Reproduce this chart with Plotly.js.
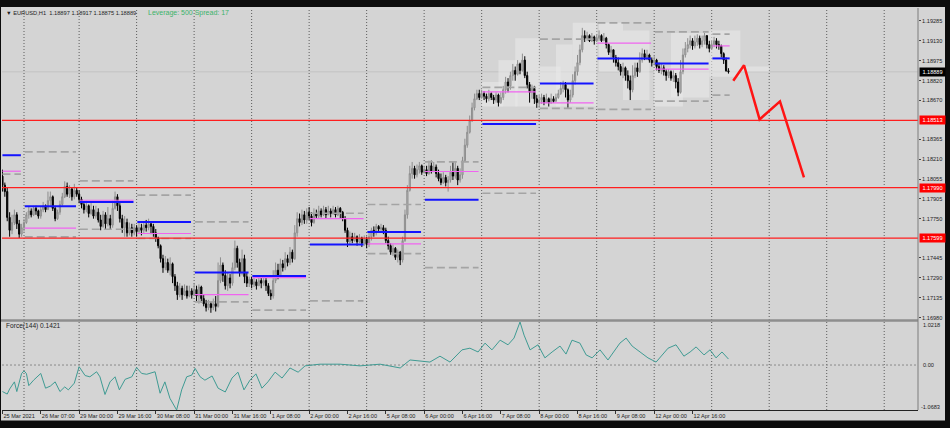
<!DOCTYPE html>
<html><head><meta charset="utf-8">
<script src="https://cdn.plot.ly/plotly-3.0.1.min.js"></script>
<style>html,body{margin:0;padding:0;background:#000;}#chart{width:950px;height:428px;}</style>
</head><body><div id="chart"></div>
<script>
// ---------- DATA ----------
const firstOpen = 1.1808;
const closes = [
1.1801,1.1796,1.1776,1.1766,1.1772,1.1778,1.1771,1.1763,1.1768,1.1772,
1.1778,1.1781,1.1778,1.1783,1.1781,1.1777,1.1782,1.1785,1.1782,1.1789,
1.1792,1.1783,1.1775,1.1780,1.1786,1.1792,1.1800,1.1794,1.1798,1.1792,
1.1797,1.1794,1.1790,1.1786,1.1782,1.1785,1.1779,1.1782,1.1777,1.1780,
1.1774,1.1769,1.1778,1.1771,1.1775,1.1770,1.1783,1.1792,1.1785,1.1775,
1.1768,1.1772,1.1764,1.1768,1.1764,1.1768,1.1765,1.1768,1.1766,1.1770,
1.1768,1.1771,1.1769,1.1764,1.1760,1.1754,1.1744,1.1737,1.1741,1.1735,
1.1740,1.1730,1.1723,1.1716,1.1721,1.1716,1.1719,1.1715,1.1719,1.1716,
1.1720,1.1715,1.1722,1.1713,1.1709,1.1706,1.1709,1.1706,1.1709,1.1707,
1.1727,1.1739,1.1731,1.1723,1.1729,1.1725,1.1737,1.1752,1.1741,1.1733,
1.1744,1.1730,1.1725,1.1728,1.1724,1.1726,1.1723,1.1727,1.1725,1.1727,
1.1723,1.1717,1.1715,1.1727,1.1735,1.1731,1.1740,1.1737,1.1744,1.1741,
1.1749,1.1744,1.1764,1.1775,1.1772,1.1778,1.1774,1.1780,1.1777,1.1772,
1.1779,1.1777,1.1781,1.1778,1.1782,1.1778,1.1781,1.1779,1.1782,1.1778,
1.1783,1.1780,1.1775,1.1766,1.1757,1.1761,1.1758,1.1761,1.1757,1.1760,
1.1756,1.1759,1.1755,1.1761,1.1766,1.1764,1.1769,1.1767,1.1768,1.1766,
1.1758,1.1754,1.1749,1.1752,1.1745,1.1749,1.1743,1.1758,1.1778,1.1797,
1.1810,1.1814,1.1809,1.1813,1.1816,1.1811,1.1813,1.1810,1.1816,1.1812,
1.1815,1.1810,1.1806,1.1803,1.1807,1.1803,1.1805,1.1811,1.1808,1.1814,
1.1805,1.1809,1.1820,1.1832,1.1842,1.1851,1.1861,1.1868,1.1872,1.1869,
1.1872,1.1870,1.1868,1.1872,1.1869,1.1867,1.1871,1.1865,1.1869,1.1875,
1.1881,1.1878,1.1886,1.1890,1.1887,1.1895,1.1890,1.1898,1.1886,1.1879,
1.1873,1.1876,1.1868,1.1865,1.1867,1.1869,1.1865,1.1868,1.1865,1.1868,
1.1866,1.1869,1.1872,1.1876,1.1879,1.1875,1.1867,1.1871,1.1882,1.1889,
1.1896,1.1906,1.1917,1.1915,1.1917,1.1913,1.1916,1.1913,1.1915,1.1917,
1.1913,1.1915,1.1910,1.1904,1.1906,1.1900,1.1896,1.1893,1.1889,1.1892,
1.1886,1.1882,1.1875,1.1886,1.1892,1.1889,1.1898,1.1903,1.1900,1.1902,
1.1898,1.1896,1.1898,1.1893,1.1890,1.1892,1.1889,1.1886,1.1889,1.1884,
1.1886,1.1881,1.1873,1.1889,1.1902,1.1907,1.1910,1.1913,1.1909,1.1912,
1.1915,1.1910,1.1913,1.1917,1.1910,1.1907,1.1910,1.1913,1.1910,1.1909,
1.1903,1.1898,1.18897,1.18889];
const highs = [
1.1813,1.1803,1.1799,1.1780,1.1778,1.1782,1.1780,1.1774,1.1771,1.1775,
1.1780,1.1784,1.1783,1.1785,1.1785,1.1782,1.1784,1.1788,1.1786,1.1796,
1.1796,1.1793,1.1785,1.1782,1.1789,1.1795,1.1804,1.1803,1.1801,1.1799,
1.1802,1.1799,1.1797,1.1792,1.1788,1.1789,1.1786,1.1788,1.1785,1.1785,
1.1783,1.1778,1.1781,1.1780,1.1784,1.1778,1.1789,1.1796,1.1794,1.1787,
1.1778,1.1777,1.1775,1.1772,1.1771,1.1771,1.1770,1.1772,1.1771,1.1773,
1.1774,1.1775,1.1773,1.1771,1.1767,1.1761,1.1755,1.1747,1.1746,1.1744,
1.1745,1.1741,1.1732,1.1726,1.1725,1.1723,1.1724,1.1723,1.1723,1.1721,
1.1725,1.1723,1.1724,1.1723,1.1716,1.1712,1.1712,1.1711,1.1713,1.1715,
1.1741,1.1745,1.1741,1.1735,1.1733,1.1732,1.1741,1.1758,1.1754,1.1744,
1.1751,1.1747,1.1733,1.1730,1.1730,1.1730,1.1728,1.1730,1.1729,1.1730,
1.1729,1.1725,1.1720,1.1735,1.1741,1.1740,1.1744,1.1743,1.1749,1.1747,
1.1753,1.1751,1.1770,1.1780,1.1779,1.1782,1.1781,1.1783,1.1784,1.1780,
1.1783,1.1782,1.1785,1.1783,1.1785,1.1784,1.1785,1.1783,1.1785,1.1784,
1.1785,1.1784,1.1781,1.1777,1.1768,1.1765,1.1764,1.1764,1.1762,1.1763,
1.1761,1.1762,1.1761,1.1764,1.1768,1.1769,1.1771,1.1770,1.1771,1.1770,
1.1768,1.1761,1.1756,1.1755,1.1753,1.1751,1.1750,1.1761,1.1782,1.1801,
1.1816,1.1819,1.1816,1.1817,1.1819,1.1817,1.1816,1.1816,1.1820,1.1820,
1.1819,1.1817,1.1813,1.1810,1.1811,1.1809,1.1808,1.1816,1.1819,1.1819,
1.1816,1.1814,1.1823,1.1837,1.1847,1.1855,1.1865,1.1872,1.1875,1.1875,
1.1875,1.1874,1.1872,1.1875,1.1873,1.1871,1.1873,1.1872,1.1873,1.1878,
1.1885,1.1884,1.1889,1.1895,1.1893,1.1898,1.1896,1.1903,1.1901,1.1889,
1.1881,1.1879,1.1878,1.1871,1.1871,1.1872,1.1871,1.1872,1.1869,1.1872,
1.1870,1.1872,1.1875,1.1881,1.1882,1.1881,1.1876,1.1875,1.1887,1.1893,
1.1902,1.1910,1.1923,1.1921,1.1920,1.1918,1.1919,1.1917,1.1918,1.1921,
1.1918,1.1919,1.1916,1.1911,1.1909,1.1906,1.1902,1.1900,1.1895,1.1896,
1.1893,1.1890,1.1886,1.1894,1.1896,1.1896,1.1904,1.1907,1.1906,1.1906,
1.1903,1.1900,1.1901,1.1899,1.1896,1.1895,1.1894,1.1891,1.1891,1.1890,
1.1890,1.1888,1.1884,1.1898,1.1907,1.1912,1.1915,1.1917,1.1915,1.1917,
1.1918,1.1917,1.1917,1.1919,1.1917,1.1913,1.1913,1.1916,1.1915,1.1913,
1.1910,1.1904,1.1900,1.18917];
const lows = [
1.1796,1.1792,1.1773,1.1761,1.1763,1.1770,1.1767,1.1760,1.1761,1.1765,
1.1771,1.1775,1.1776,1.1777,1.1778,1.1775,1.1775,1.1780,1.1780,1.1782,
1.1785,1.1781,1.1773,1.1774,1.1778,1.1785,1.1791,1.1792,1.1791,1.1789,
1.1790,1.1792,1.1787,1.1783,1.1779,1.1780,1.1776,1.1778,1.1775,1.1775,
1.1772,1.1766,1.1768,1.1767,1.1769,1.1767,1.1768,1.1782,1.1781,1.1772,
1.1764,1.1761,1.1761,1.1762,1.1761,1.1762,1.1761,1.1764,1.1762,1.1764,
1.1765,1.1766,1.1763,1.1761,1.1757,1.1752,1.1741,1.1733,1.1735,1.1733,
1.1731,1.1725,1.1719,1.1712,1.1714,1.1712,1.1715,1.1713,1.1714,1.1713,
1.1715,1.1711,1.1709,1.1710,1.1707,1.1703,1.1704,1.1702,1.1704,1.1703,
1.1706,1.1725,1.1726,1.1720,1.1719,1.1721,1.1723,1.1735,1.1737,1.1730,
1.1731,1.1725,1.1722,1.1722,1.1721,1.1722,1.1720,1.1723,1.1721,1.1723,
1.1719,1.1715,1.1712,1.1713,1.1725,1.1728,1.1729,1.1734,1.1735,1.1738,
1.1739,1.1741,1.1743,1.1761,1.1769,1.1770,1.1771,1.1771,1.1774,1.1769,
1.1771,1.1775,1.1775,1.1776,1.1777,1.1775,1.1778,1.1776,1.1778,1.1776,
1.1777,1.1775,1.1773,1.1764,1.1753,1.1755,1.1756,1.1757,1.1754,1.1756,
1.1753,1.1754,1.1752,1.1753,1.1758,1.1761,1.1762,1.1764,1.1764,1.1763,
1.1756,1.1751,1.1747,1.1746,1.1743,1.1741,1.1739,1.1741,1.1757,1.1775,
1.1796,1.1806,1.1806,1.1807,1.1810,1.1809,1.1810,1.1808,1.1809,1.1810,
1.1811,1.1807,1.1804,1.1801,1.1802,1.1800,1.1796,1.1803,1.1805,1.1806,
1.1801,1.1803,1.1806,1.1819,1.1830,1.1841,1.1850,1.1859,1.1867,1.1867,
1.1868,1.1867,1.1865,1.1866,1.1867,1.1864,1.1865,1.1862,1.1864,1.1867,
1.1872,1.1873,1.1875,1.1882,1.1882,1.1886,1.1887,1.1889,1.1884,1.1876,
1.1865,1.1868,1.1864,1.1861,1.1861,1.1864,1.1863,1.1865,1.1862,1.1864,
1.1865,1.1866,1.1868,1.1871,1.1873,1.1869,1.1861,1.1865,1.1869,1.1879,
1.1886,1.1894,1.1904,1.1912,1.1913,1.1912,1.1912,1.1910,1.1912,1.1913,
1.1912,1.1913,1.1907,1.1902,1.1900,1.1896,1.1893,1.1890,1.1886,1.1884,
1.1882,1.1876,1.1867,1.1873,1.1884,1.1885,1.1888,1.1896,1.1898,1.1898,
1.1896,1.1893,1.1894,1.1890,1.1888,1.1887,1.1886,1.1882,1.1884,1.1882,
1.1881,1.1876,1.1870,1.1872,1.1887,1.1900,1.1904,1.1907,1.1906,1.1907,
1.1909,1.1907,1.1908,1.1910,1.1907,1.1904,1.1906,1.1908,1.1907,1.1906,
1.1900,1.1895,1.1889,1.18875];

// daily levels (bar index where each day starts)
const dayStarts   = [0, 9, 32, 56, 80, 104, 128, 152, 176, 200, 224, 248, 272, 296];
const pivotBlue   = [1.18242,1.17847,1.17880,1.17725,1.17332,1.17306,1.17549,1.17647,1.17896,1.18485,1.18799,1.18993,1.18954,1.18993];
const pivotPink   = [1.18118,1.17676,1.17893,1.17635,1.17161,1.17293,1.17751,1.17554,1.18116,1.18734,1.18648,1.19112,1.18910,1.19090];
const prevHigh    = [null,1.18268,1.18043,1.17932,1.17725,null,1.17792,1.17860,1.18190,1.18768,1.19143,1.19269,1.19199,1.19181];
const prevLow     = [1.18095,1.17608,1.17668,1.17596,1.17104,1.17040,1.17112,1.17479,1.17371,1.17947,1.18605,1.18597,1.18661,1.18708];

const redLevels = [1.18513, 1.17990, 1.17599];
const lastPrice = 1.18889;
const priceTicks = [1.19285,1.19130,1.18975,1.18820,1.18670,1.18365,1.18210,1.18055,1.17905,1.17750,1.17445,1.17290,1.17135,1.16980];

const gridBars = [9,32,56,80,104,128,152,176,200,224,248,272,296,320,344,368];
const tickBars = [0,16,32,48,64,80,96,112,128,144,160,176,192,208,224,240,256,272,288];
const tickLabels = ["25 Mar 2021","26 Mar 07:00","29 Mar 00:00","29 Mar 16:00","30 Mar 08:00","31 Mar 00:00","31 Mar 16:00","1 Apr 08:00","2 Apr 00:00","2 Apr 16:00","5 Apr 08:00","6 Apr 00:00","6 Apr 16:00","7 Apr 08:00","8 Apr 00:00","8 Apr 16:00","9 Apr 08:00","12 Apr 00:00","12 Apr 16:00"];

const forceBars = [0,2,3,5,6,8,9,10,11,13,16,18,20,22,24,26,27.5,30,32,34.5,36.5,39.3,40.7,42.8,44.9,47,48.8,51.2,54,56,58.1,60.2,63.7,65.8,67.8,69.9,72.7,74.8,76.9,79,80.4,82.5,84.5,87.5,90,93,95.8,98.3,100.8,103.3,105.8,108.3,110.8,113.8,116.7,120,123.4,126.3,132.5,140.9,149.2,157.6,166,170.1,178.4,182.6,186.8,191.8,195.1,198.5,201.4,204.3,207.7,211,213.5,216,217.7,220.2,223.5,226.4,229.4,232.7,235.2,237.7,241,243.6,246.1,249.4,252.7,255.2,257.7,260.3,262.8,266.1,269.4,272.8,275.3,277.8,281.1,284.4,287,289.5,292.8,295.3,297.8,300.3,303];
const forceVals = [-0.63,-0.69,-0.57,-0.40,-0.63,-0.20,-0.14,-0.20,-0.49,-0.36,-0.20,-0.55,-0.50,-0.40,-0.63,-0.52,-0.59,-0.43,-0.04,-0.25,-0.28,-0.16,-0.28,-0.70,-0.40,-0.28,-0.59,-0.34,-0.28,-0.06,-0.20,-0.22,-0.16,-0.67,-0.40,-0.79,-1.0683,-0.59,-0.28,-0.24,-0.08,-0.28,-0.36,-0.26,-0.55,-0.64,-0.31,-0.17,-0.59,-0.36,-0.21,-0.55,-0.40,-0.17,-0.31,-0.07,-0.17,-0.02,0.02,0.02,-0.02,0.02,-0.07,0.12,0.07,0.21,0.07,0.36,0.40,0.31,0.52,0.36,0.59,0.48,0.64,1.0218,0.71,0.36,0.48,0.17,0.31,0.45,0.26,0.59,0.52,0.24,0.17,0.36,0.12,0.31,0.52,0.64,0.45,0.31,0.17,0.07,0.24,0.40,0.48,0.21,0.31,0.43,0.24,0.36,0.17,0.31,0.1421];
const forceMax = 1.0218, forceMin = -1.0683;

const arrowBars = [305, 309.5, 316, 324.5, 334.5];
const arrowPrices = [1.1882, 1.1894, 1.1852, 1.1866, 1.1807];

// light zone boxes [barFrom, barTo, priceLow, priceHigh]
const zoneBoxes = [[200,209,1.1862,1.1881],[207,215,1.1862,1.1898],[214,224,1.1862,1.1915],[224,233,1.1862,1.1893],[231,238,1.1862,1.1910],[238,248,1.1862,1.1927],[249,259,1.1889,1.1927],[259,270,1.1867,1.1921],[272,284,1.1862,1.1892],[279,295,1.1869,1.1919],[295,308,1.1885,1.1921],[308,320,1.1889,1.1893]];

// ---------- LAYOUT HELPERS ----------
const W = 950, H = 428, ML = 2, MR = 32, MT = 8, MB = 18;
const PW = W - ML - MR, PH = H - MT - MB;
const pxX = px => (px - ML) / PW;
const pxY = py => (H - MB - py) / PH;
const FONT = 'Liberation Sans, Arial, sans-serif';

const idx = closes.map((_, i) => i);
const opens = closes.map((c, i) => i === 0 ? firstOpen : closes[i - 1]);

const traces = [
  { type: 'candlestick', x: idx, open: opens, high: highs, low: lows, close: closes,
    xaxis: 'x', yaxis: 'y', hoverinfo: 'skip', whiskerwidth: 0,
    increasing: { line: { color: '#8e8e8e', width: 1 }, fillcolor: '#bebebe' },
    decreasing: { line: { color: '#000000', width: 1 }, fillcolor: '#000000' } },
  { type: 'scatter', mode: 'lines', x: arrowBars, y: arrowPrices, xaxis: 'x', yaxis: 'y',
    line: { color: '#ff1414', width: 2.5 }, hoverinfo: 'skip' },
  { type: 'scatter', mode: 'lines', x: forceBars, y: forceVals, xaxis: 'x', yaxis: 'y2',
    line: { color: '#3f9b93', width: 1 }, hoverinfo: 'skip' }
];

const shapes = [];
zoneBoxes.forEach(b => shapes.push({ type: 'rect', xref: 'x', yref: 'y', x0: b[0], x1: b[1], y0: b[2], y1: b[3],
  fillcolor: '#e8e8e8', opacity: 0.6, line: { width: 0 }, layer: 'below' }));
gridBars.forEach(g => shapes.push({ type: 'line', xref: 'x', yref: 'paper', x0: g, x1: g, y0: 0, y1: 1,
  line: { color: '#5c5c5c', width: 1, dash: '1px,2px' }, layer: 'below' }));
shapes.push({ type: 'line', xref: 'paper', yref: 'y', x0: 0, x1: 1, y0: lastPrice, y1: lastPrice,
  line: { color: '#c2c2c2', width: 1 }, layer: 'below' });
dayStarts.forEach((s, k) => {
  const x0 = k === 0 ? 0 : s + 0.3;
  const x1 = k < dayStarts.length - 1 ? dayStarts[k + 1] - 1.3 : closes.length - 0.5;
  const addLine = (v, color, width, dash) => { if (v !== null) shapes.push({ type: 'line', xref: 'x', yref: 'y',
    x0: x0, x1: x1, y0: v, y1: v, line: { color: color, width: width, dash: dash }, layer: 'above' }); };
  addLine(prevHigh[k], '#a4a4a4', 1.7, '8px,4px');
  addLine(prevLow[k], '#a4a4a4', 1.7, '8px,4px');
  addLine(pivotPink[k], '#f064f0', 1.2, 'solid');
  addLine(pivotBlue[k], '#1414ff', 2, 'solid');
});
redLevels.forEach(v => shapes.push({ type: 'line', xref: 'paper', yref: 'y', x0: 0, x1: 1, y0: v, y1: v,
  line: { color: '#ff1e1e', width: 1.3 }, layer: 'above' }));
shapes.push({ type: 'line', xref: 'paper', yref: 'y2', x0: 0, x1: 1, y0: 0, y1: 0,
  line: { color: '#8a8a8a', width: 1, dash: '2px,2px' }, layer: 'below' });
shapes.push({ type: 'line', xref: 'paper', yref: 'paper', x0: pxX(0), x1: 1, y0: pxY(320.5), y1: pxY(320.5),
  line: { color: '#8e8e8e', width: 2.5 }, layer: 'above' });
shapes.push({ type: 'line', xref: 'paper', yref: 'paper', x0: 1, x1: 1, y0: 0, y1: 1,
  line: { color: '#7c7c7c', width: 1 }, layer: 'above' });
const black = { fillcolor: '#0c0c0c', line: { width: 0 }, layer: 'above', type: 'rect', xref: 'paper', yref: 'paper' };
shapes.push(Object.assign({}, black, { x0: pxX(-5), x1: pxX(955), y0: pxY(7), y1: pxY(-5) }));
shapes.push(Object.assign({}, black, { x0: pxX(-5), x1: pxX(955), y0: pxY(433), y1: pxY(420.5) }));
shapes.push(Object.assign({}, black, { x0: pxX(945), x1: pxX(955), y0: pxY(433), y1: pxY(-5) }));
shapes.push(Object.assign({}, black, { x0: pxX(-5), x1: pxX(1), y0: pxY(433), y1: pxY(-5) }));

const last = closes.length - 1;
const header = '\u25BC EURUSD,H1  ' + [opens[last], highs[last], lows[last], closes[last]].map(v => v.toFixed(5)).join(' ');

const annotations = [
  { xref: 'paper', yref: 'paper', x: pxX(4), y: pxY(13), xanchor: 'left', yanchor: 'middle', showarrow: false,
    text: header, font: { family: FONT, size: 5.7, color: '#1e1e1e' } },
  { xref: 'paper', yref: 'paper', x: pxX(146), y: pxY(13), xanchor: 'left', yanchor: 'middle', showarrow: false,
    text: 'Leverage: 500 Spread: 17', font: { family: FONT, size: 7, color: '#3cb36a' } },
  { xref: 'paper', yref: 'paper', x: pxX(4), y: pxY(326), xanchor: 'left', yanchor: 'middle', showarrow: false,
    text: 'Force(144) ' + forceVals[forceVals.length - 1].toFixed(4), font: { family: FONT, size: 6.6, color: '#222' } },
  { xref: 'paper', yref: 'paper', x: pxX(921), y: pxY(325), xanchor: 'left', yanchor: 'middle', showarrow: false,
    text: forceMax.toFixed(4), font: { family: FONT, size: 5.6, color: '#1e1e1e' } },
  { xref: 'paper', yref: 'paper', x: pxX(921), y: pxY(365), xanchor: 'left', yanchor: 'middle', showarrow: false,
    text: '0.00', font: { family: FONT, size: 5.6, color: '#1e1e1e' } },
  { xref: 'paper', yref: 'paper', x: pxX(919), y: pxY(407), xanchor: 'left', yanchor: 'middle', showarrow: false,
    text: forceMin.toFixed(4), font: { family: FONT, size: 5.6, color: '#1e1e1e' } }
];
redLevels.forEach(v => annotations.push({ xref: 'paper', yref: 'y', x: pxX(918.5), y: v, xanchor: 'left', yanchor: 'middle',
  showarrow: false, text: v.toFixed(5), bgcolor: '#ff0000', width: 25, height: 8, borderpad: 0,
  font: { family: FONT, size: 5.6, color: '#ffffff' } }));
annotations.push({ xref: 'paper', yref: 'y', x: pxX(918.5), y: lastPrice, xanchor: 'left', yanchor: 'middle',
  showarrow: false, text: lastPrice.toFixed(5), bgcolor: '#000000', width: 25, height: 8, borderpad: 0,
  font: { family: FONT, size: 5.6, color: '#ffffff' } });

const layout = {
  width: W, height: H, margin: { l: ML, r: MR, t: MT, b: MB },
  paper_bgcolor: '#d4d4d4', plot_bgcolor: '#d4d4d4', showlegend: false,
  xaxis: { anchor: 'y2', range: [-0.18, 382.1], showgrid: false, zeroline: false,
    tickmode: 'array', tickvals: tickBars, ticktext: tickLabels, tickangle: 0,
    ticks: 'outside', ticklen: 3, tickcolor: '#333', ticklabelposition: 'outside right',
    tickfont: { family: FONT, size: 5.6, color: '#1e1e1e' },
    showline: true, linecolor: '#222', linewidth: 1, rangeslider: { visible: false }, fixedrange: true },
  yaxis: { domain: [pxY(320), 1], range: [1.16964, 1.19384], side: 'right', anchor: 'x',
    tickmode: 'array', tickvals: priceTicks, ticktext: priceTicks.map(v => v.toFixed(5)),
    ticks: 'outside', ticklen: 2, tickcolor: '#444', showgrid: false, zeroline: false,
    tickfont: { family: FONT, size: 5.6, color: '#1e1e1e' }, fixedrange: true },
  yaxis2: { domain: [0, pxY(322)], range: [forceMin, forceMax], anchor: 'x', side: 'right',
    showticklabels: false, ticks: '', showgrid: false, zeroline: false, fixedrange: true },
  shapes: shapes, annotations: annotations
};

Plotly.newPlot('chart', traces, layout, { staticPlot: true, displayModeBar: false });
</script></body></html>
